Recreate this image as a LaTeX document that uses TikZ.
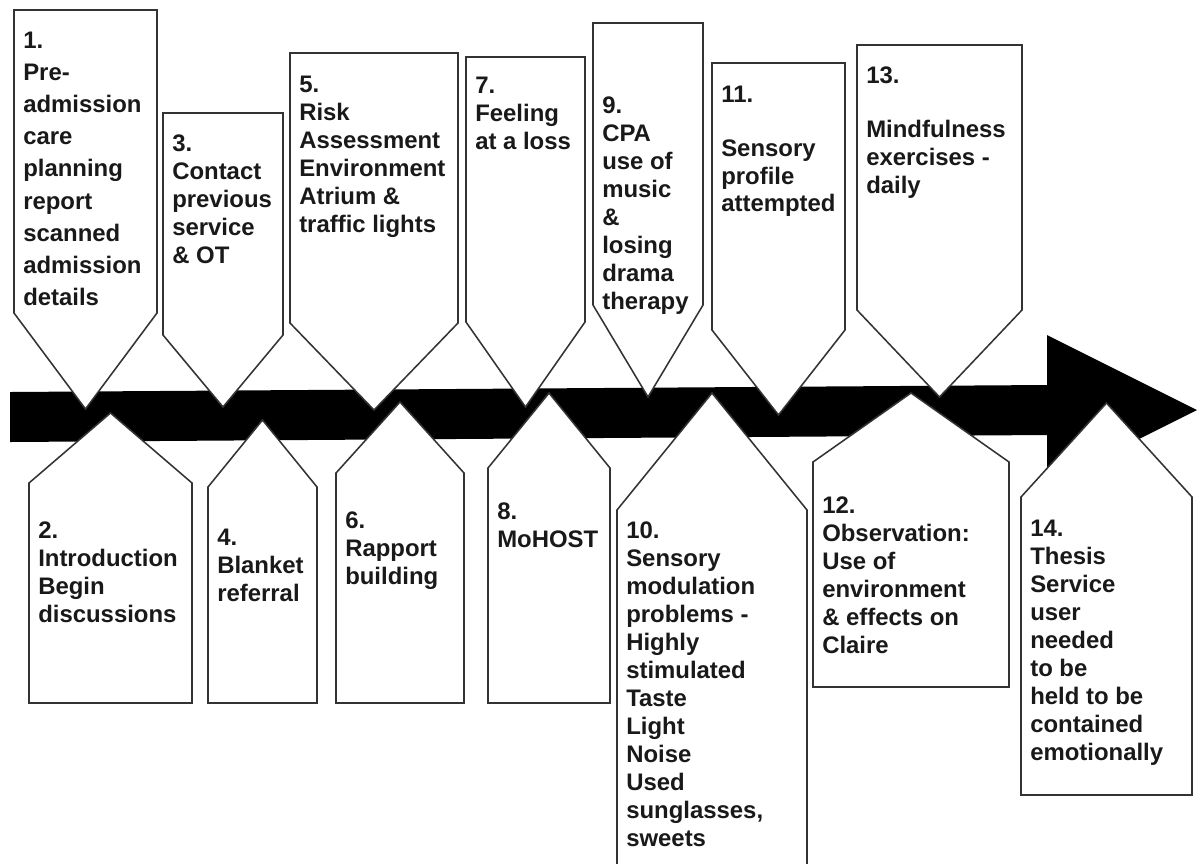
\documentclass[tikz,border=0pt]{standalone}
\usepackage{fontspec}
\setmainfont{Liberation Sans}
\usepackage{tikz}
\usetikzlibrary{positioning}
\tikzstyle{timeArrow} = [fill=black]
\tikzstyle{tagBox} = [draw=black!80, line width=1.1pt, fill=white]
\tikzstyle{tagText} = [
  inner sep=0pt,
  anchor=north west,
  align=left,
  text=black!90,
  font=\bfseries\fontsize{17}{19.9}\selectfont]
% #1 name, #2 left, #3 right, #4 flat end, #5 shoulder, #6 tip, #7 text top, #8 text
\newcommand{\timeTag}[8]{
  \draw[tagBox] (#2,#4) -- (#3,#4) -- (#3,#5) -- ({(#2+#3)/2},#6) -- (#2,#5) -- cycle;
  \node[tagText] (#1) at ({#2+9},#7) {#8};
}

\begin{document}
\begin{tikzpicture}[x=0.025cm, y=-0.025cm]
  \useasboundingbox (0,0) rectangle (1202,863);
  \clip (0,0) rectangle (1202,863);
  % time line
  \fill[timeArrow] (10,392) -- (1047,385) -- (1047,335) -- (1197,410)
    -- (1047,485) -- (1047,435) -- (10,442) -- cycle;
  % above the line
  \begin{scope}[tagText/.append style={font=\bfseries\fontsize{17}{22.8}\selectfont}]
    \timeTag{s1}{14}{157}{10}{313}{409}{32}{1.\\Pre-\\admission\\care\\planning\\report\\scanned\\admission\\details}
  \end{scope}
  \timeTag{s3}{163}{283}{113}{335}{407}{135}{3.\\Contact\\previous\\service\\\& OT}
  \timeTag{s5}{290}{458}{53}{323}{410}{76}{5.\\Risk\\Assessment\\Environment\\Atrium \&\\traffic lights}
  \timeTag{s7}{466}{585}{57}{322}{407}{77}{7.\\Feeling\\at a loss}
  \timeTag{s9}{593}{703}{23}{305}{397}{97}{9.\\CPA\\use of\\music\\\&\\losing\\drama\\therapy}
  \timeTag{s11}{712}{845}{63}{330}{415}{86}{11.\\[18pt]Sensory\\profile\\attempted}
  \timeTag{s13}{857}{1022}{45}{310}{397}{67}{13.\\[18pt]Mindfulness\\exercises -\\daily}
  % below the line
  \timeTag{s2}{29}{192}{703}{483}{413}{522}{2.\\Introduction\\Begin\\discussions}
  \timeTag{s4}{208}{317}{703}{487}{420}{529}{4.\\Blanket\\referral}
  \timeTag{s6}{336}{464}{703}{473}{402}{512}{6.\\Rapport\\building}
  \timeTag{s8}{488}{610}{703}{468}{393}{503}{8.\\MoHOST}
  \timeTag{s10}{617}{807}{900}{510}{393}{522}{10.\\Sensory\\modulation\\problems -\\Highly\\stimulated\\Taste\\Light\\Noise\\Used\\sunglasses,\\sweets}
  \timeTag{s12}{813}{1009}{687}{462}{393}{497}{12.\\Observation:\\Use of\\environment\\\& effects on\\Claire}
  \timeTag{s14}{1021}{1192}{795}{497}{403}{520}{14.\\Thesis\\Service\\user\\needed\\to be\\held to be\\contained\\emotionally}
\end{tikzpicture}
\end{document}
